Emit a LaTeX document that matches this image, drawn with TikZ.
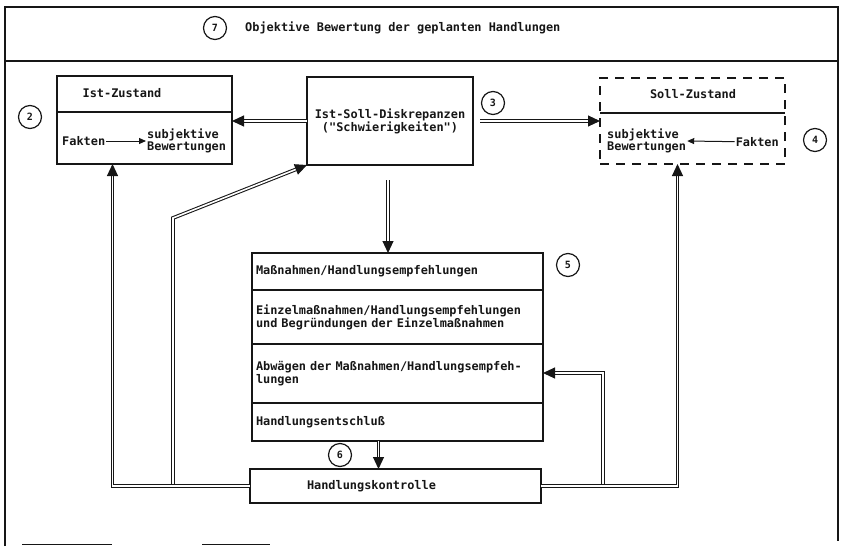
\documentclass[tikz,border=0pt]{standalone}
\usepackage{fontspec}
\newfontfamily\schreibfont{DejaVu Sans Mono}
\usepackage{xcolor}
\definecolor{tinte}{RGB}{22,22,22}
\usepackage{tikz}
\usetikzlibrary{arrows.meta,positioning,calc}
\newcommand{\kastenfont}{\schreibfont\bfseries\fontsize{11.9}{11}\selectfont}
\newcommand{\nrfont}{\schreibfont\bfseries\fontsize{10}{10}\selectfont}
\tikzset{
	kasten/.style    = {rectangle,draw=tinte,line width=1.4pt,outer sep=0pt,
		inner sep=0pt,font=\kastenfont,text=tinte},
	zeile/.style     = {kasten,minimum width=291pt,text width=283pt,
		align=left},
	txt/.style       = {inner sep=1pt,font=\kastenfont,text=tinte,
		align=left},
	nr/.style        = {circle,draw=tinte,line width=1.2pt,minimum size=23pt,
		inner sep=0pt,font=\nrfont,text=tinte},
	rohr/.style      = {draw=tinte,double=white,line width=1.05pt,
		double distance=1.6pt},
	rohrpfeil/.style = {rohr,-{Triangle[length=12pt,width=11pt,
			color=tinte,fill=tinte]}},
	pfeil/.style     = {-{Triangle[length=7pt,width=6pt]},draw=tinte,
		line width=1pt},
	rahmen/.style    = {draw=tinte,line width=1.4pt},
}

\begin{document}
\begin{tikzpicture}[x=1pt,y=-1pt]
	\useasboundingbox (0,0) rectangle (842,546);
	
	%% Rahmen und Kopfzeile
	\draw[rahmen] (5,546) -- (5,7) -- (838,7) -- (838,541);
	\draw[rahmen] (5,61) -- (838,61);
	\draw[draw=tinte,line width=0.9pt] (22,544) -- (112,544);
	\draw[draw=tinte,line width=0.9pt] (202,544) -- (270,544);
	\node (n7) [nr] at (215,28) {7};
	\node (titel) [txt,anchor=west] at (244,28)
	{Objektive Bewertung der geplanten Handlungen};
	
	%% Ist-Zustand
	\node (ist) [kasten,minimum width=175pt,minimum height=88pt,
	anchor=north west] at (57,76) {};
	\draw[draw=tinte,line width=1.3pt] (ist.west |- 0,112) -- (ist.east |- 0,112);
	\node (istt) [txt] at (122,93) {Ist-Zustand};
	\node (istf) [txt,anchor=west] at (61,141) {Fakten};
	\node (istb) [txt,anchor=west] at (146,141) {subjektive\\Bewertungen};
	\node (n2) [nr] at (30,117) {2};
	
	%% Diskrepanzen
	\node (disk) [kasten,minimum width=166pt,minimum height=88pt,
	align=center] at (390,121)
	{Ist-Soll-Diskrepanzen\\("Schwierigkeiten")};
	\node (n3) [nr] at (493,103) {3};
	
	%% Soll-Zustand
	\node (soll) [kasten,dashed,dash pattern=on 9pt off 7pt,
	minimum width=185pt,minimum height=86pt,anchor=north west]
	at (600,78) {};
	\draw[draw=tinte,line width=1.3pt] (soll.west |- 0,113) -- (soll.east |- 0,113);
	\node (sollt) [txt] at (693,94) {Soll-Zustand};
	\node (sollb) [txt,anchor=west] at (606,141) {subjektive\\Bewertungen};
	\node (sollf) [txt,anchor=east] at (780,142) {Fakten};
	\node (n4) [nr] at (815,140) {4};
	
	%% Massnahmen
	\node (mass1) [zeile,minimum height=37pt,anchor=north west] at (252,253)
	{Maßnahmen/Handlungsempfehlungen};
	\node (mass2) [zeile,minimum height=54pt,below=0pt of mass1]
	{Einzelmaßnahmen/Handlungsempfehlungen\\und Begründungen der Einzelmaßnahmen};
	\node (mass3) [zeile,minimum height=59pt,below=0pt of mass2]
	{Abwägen der Maßnahmen/Handlungsempfeh-\\lungen};
	\node (mass4) [zeile,minimum height=38pt,below=0pt of mass3]
	{Handlungsentschluß};
	\node (n5) [nr] at (568,265) {5};
	
	%% Kontrolle
	\node (kontr) [kasten,minimum width=291pt,minimum height=34pt,
	text width=177pt,align=left,anchor=north west] at (250,469)
	{Handlungskontrolle};
	\node (n6) [nr] at (340,455) {6};
	
	%% Pfeile
	\draw[pfeil] (istf) -- (istb.west);
	\draw[pfeil] (sollf) -- (sollb.east);
	\draw[rohrpfeil] (disk.west) -- (disk.west -| ist.east);
	\draw[rohrpfeil,shorten <=7pt] (disk.east) -- (disk.east -| soll.west);
	\draw[rohrpfeil,shorten <=15pt] ([xshift=-2pt]disk.south)
	-- ([xshift=-2pt]disk.south |- mass1.north);
	\draw[rohrpfeil] ([xshift=-19pt]mass4.south)
	-- ([xshift=-19pt]mass4.south |- kontr.north);
	
	%% Rueckkopplung
	\coordinate (knickl) at (173,218);
	\coordinate (knickr) at (603,373);
	\draw[rohrpfeil] (kontr.west -| knickl) -- (knickl) -- (disk.south west);
	\draw[rohrpfeil] (kontr.east -| knickr) -- (knickr) -- (knickr -| mass3.east);
	\draw[rohrpfeil] (kontr.west) -| ([xshift=-32pt]ist.south);
	\draw[rohrpfeil] (kontr.east) -| ([xshift=-15pt]soll.south);
\end{tikzpicture}
\end{document}
